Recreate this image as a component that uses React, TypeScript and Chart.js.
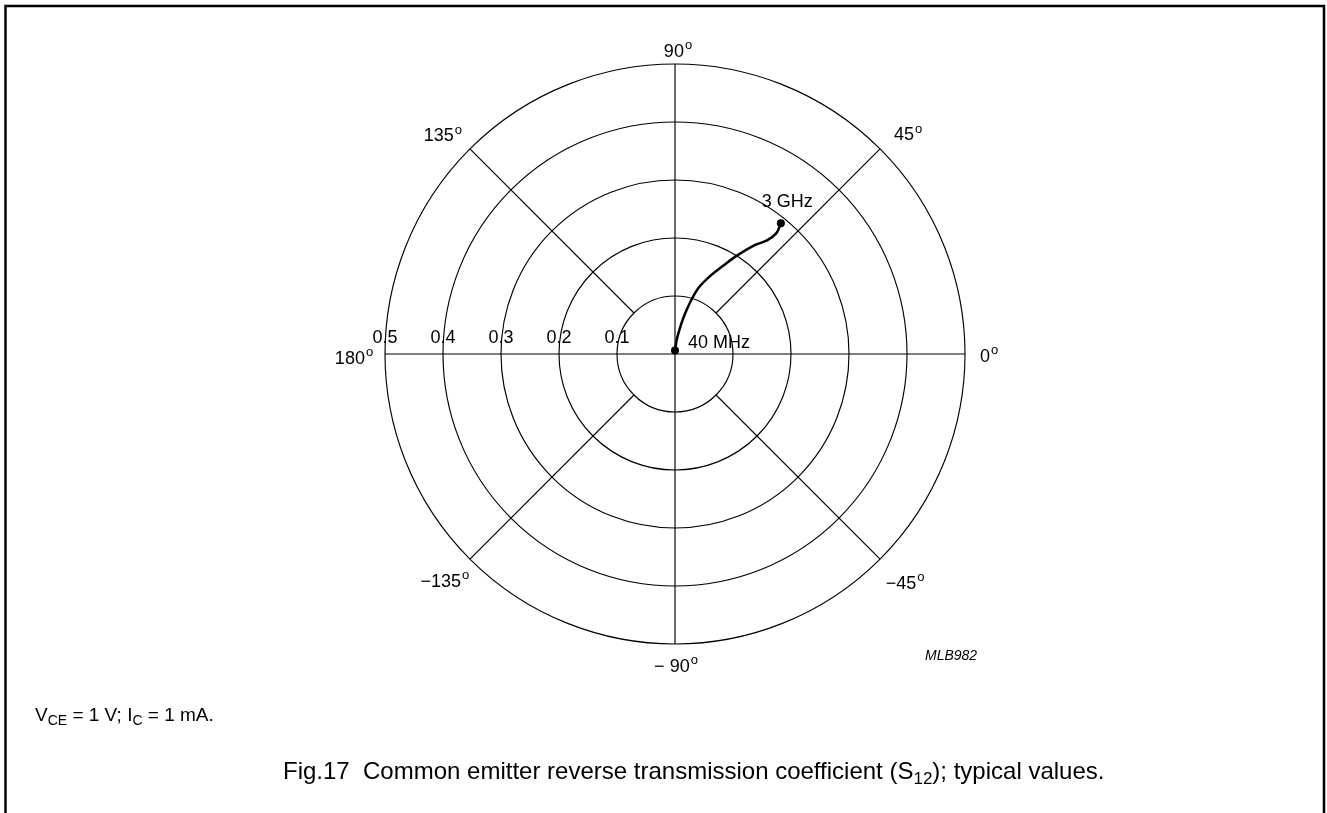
import React, { useEffect, useRef } from "react";
import { Chart, registerables } from "chart.js";

Chart.register(...registerables);

// ---- data ----
const frequencyLabels = ["40 MHz", "3 GHz"];
const magnitude = [0.006, 0.03, 0.072, 0.117, 0.146, 0.176, 0.199, 0.231, 0.252, 0.272, 0.29];
const phaseDeg = [90, 82, 76, 71, 66, 61, 58, 54, 51, 50, 51];
const ringValues = [0.1, 0.2, 0.3, 0.4, 0.5];
const ringLabels = ["0.1", "0.2", "0.3", "0.4", "0.5"];
const spokeAngles = [0, 45, 90, 135, 180, -135, -90, -45];
const spokeLabels = ["0", "45", "90", "135", "180", "\u2212135", "\u2212 90", "\u221245"];
const conditionText = { v: "V", vSub: "CE", mid: " = 1 V; I", iSub: "C", end: " = 1 mA." };
const titleText = { pre: "Fig.17  Common emitter reverse transmission coefficient (S", sub: "12", post: "); typical values." };
const figureCode = "MLB982";

const FONT = '"Liberation Sans", Arial, Helvetica, sans-serif';

// label placement style (offset from the point where the spoke meets the outer ring)
const spokeLabelOffset: Record<string, [number, number]> = {
  "0": [24, 1],
  "45": [28, -15],
  "90": [3, -14],
  "135": [-27, -14],
  "180": [-31, 3],
  "-135": [-25, 21],
  "-90": [1, 21],
  "-45": [25, 23],
};

function drawDegLabel(ctx: CanvasRenderingContext2D, text: string, cxL: number, cyL: number) {
  ctx.font = `18px ${FONT}`;
  const w1 = ctx.measureText(text).width;
  ctx.font = `13px ${FONT}`;
  const w2 = ctx.measureText("o").width;
  const total = w1 + 1 + w2;
  const x0 = cxL - total / 2;
  const base = cyL + 6.5;
  ctx.textAlign = "left";
  ctx.textBaseline = "alphabetic";
  ctx.font = `18px ${FONT}`;
  ctx.fillText(text, x0, base);
  ctx.font = `13px ${FONT}`;
  ctx.fillText("o", x0 + w1 + 1, base - 7.5);
}

const polarPlugin = {
  id: "polarGrid",
  beforeDatasetsDraw(chart: any) {
    const { ctx } = chart;
    const xs = chart.scales.x;
    const ys = chart.scales.y;
    const cx = xs.getPixelForValue(0);
    const cy = ys.getPixelForValue(0);
    const unit = xs.getPixelForValue(1) - cx;
    const rMax = ringValues[ringValues.length - 1] * unit;
    const rMin = ringValues[0] * unit;
    ctx.save();
    ctx.strokeStyle = "#000";
    ctx.lineWidth = 1.15;
    ringValues.forEach((v) => {
      ctx.beginPath();
      ctx.arc(cx, cy, v * unit, 0, Math.PI * 2);
      ctx.stroke();
    });
    spokeAngles.forEach((a) => {
      const t = (a * Math.PI) / 180;
      const inner = a % 90 === 0 ? 0 : rMin;
      ctx.beginPath();
      ctx.moveTo(cx + inner * Math.cos(t), cy - inner * Math.sin(t));
      ctx.lineTo(cx + rMax * Math.cos(t), cy - rMax * Math.sin(t));
      ctx.stroke();
    });
    ctx.fillStyle = "#000";
    // ring labels
    ctx.font = `18px ${FONT}`;
    ctx.textAlign = "center";
    ctx.textBaseline = "alphabetic";
    ringValues.forEach((v, i) => {
      ctx.fillText(ringLabels[i], cx - v * unit, cy - 11);
    });
    // spoke labels
    spokeAngles.forEach((a, i) => {
      const t = (a * Math.PI) / 180;
      const off = spokeLabelOffset[String(a)];
      drawDegLabel(ctx, spokeLabels[i], cx + rMax * Math.cos(t) + off[0], cy - rMax * Math.sin(t) + off[1]);
    });
    ctx.restore();
  },
  afterDraw(chart: any) {
    const { ctx } = chart;
    const meta = chart.getDatasetMeta(0);
    const first = meta.data[0];
    const last = meta.data[meta.data.length - 1];
    ctx.save();
    ctx.fillStyle = "#000";
    ctx.textBaseline = "alphabetic";
    ctx.textAlign = "left";
    ctx.font = `18px ${FONT}`;
    ctx.fillText(frequencyLabels[0], first.x + 13, first.y - 3);
    ctx.fillText(frequencyLabels[1], last.x - 19, last.y - 16);

    // figure code
    ctx.font = `italic 14px ${FONT}`;
    ctx.fillText(figureCode, 925, 660);

    // conditions
    let x = 35;
    const yb = 721;
    ctx.font = `19px ${FONT}`;
    ctx.fillText(conditionText.v, x, yb);
    x += ctx.measureText(conditionText.v).width;
    ctx.font = `14px ${FONT}`;
    ctx.fillText(conditionText.vSub, x, yb + 4);
    x += ctx.measureText(conditionText.vSub).width;
    ctx.font = `19px ${FONT}`;
    ctx.fillText(conditionText.mid, x, yb);
    x += ctx.measureText(conditionText.mid).width;
    ctx.font = `14px ${FONT}`;
    ctx.fillText(conditionText.iSub, x, yb + 4);
    x += ctx.measureText(conditionText.iSub).width;
    ctx.font = `19px ${FONT}`;
    ctx.fillText(conditionText.end, x, yb);

    // title
    let tx = 283;
    const tb = 779;
    ctx.font = `24px ${FONT}`;
    ctx.fillText(titleText.pre, tx, tb);
    tx += ctx.measureText(titleText.pre).width;
    ctx.font = `17px ${FONT}`;
    ctx.fillText(titleText.sub, tx, tb + 5);
    tx += ctx.measureText(titleText.sub).width;
    ctx.font = `24px ${FONT}`;
    ctx.fillText(titleText.post, tx, tb);

    // frame
    ctx.strokeStyle = "#000";
    ctx.lineWidth = 2.5;
    ctx.beginPath();
    ctx.moveTo(5.5, 813);
    ctx.lineTo(5.5, 6);
    ctx.lineTo(1324, 6);
    ctx.lineTo(1324, 813);
    ctx.stroke();
    ctx.restore();
  },
};

export default function App() {
  const ref = useRef<HTMLCanvasElement | null>(null);
  useEffect(() => {
    if (!ref.current) return;
    const points = magnitude.map((m, i) => {
      const t = (phaseDeg[i] * Math.PI) / 180;
      return { x: m * Math.cos(t), y: m * Math.sin(t) };
    });
    const lastIdx = points.length - 1;
    const chart = new Chart(ref.current, {
      type: "scatter",
      data: {
        datasets: [
          {
            data: points,
            showLine: true,
            borderColor: "#000",
            borderWidth: 2.5,
            tension: 0.35,
            pointRadius: (c: any) => (c.dataIndex === 0 || c.dataIndex === lastIdx ? 4 : 0),
            pointBackgroundColor: "#000",
            pointBorderWidth: 0,
            clip: false as any,
          },
        ],
      },
      options: {
        animation: false,
        responsive: false,
        devicePixelRatio: 1,
        events: [],
        layout: { padding: { left: 385, right: 362, top: 64, bottom: 169 } },
        scales: {
          x: { type: "linear", min: -0.5, max: 0.5, display: false },
          y: { type: "linear", min: -0.5, max: 0.5, display: false },
        },
        plugins: { legend: { display: false }, tooltip: { enabled: false }, title: { display: false } },
      },
      plugins: [polarPlugin],
    } as any);
    return () => chart.destroy();
  }, []);
  return (
    <div style={{ position: "fixed", left: 0, top: 0, width: 1327, height: 813, background: "#fff" }}>
      <canvas ref={ref} width={1327} height={813} style={{ display: "block", width: 1327, height: 813 }} />
    </div>
  );
}
